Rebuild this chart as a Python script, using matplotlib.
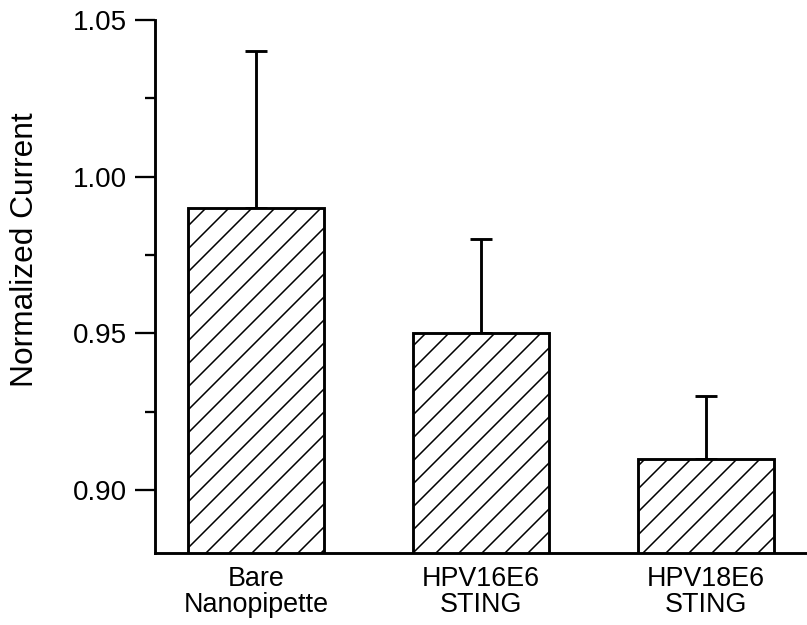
import numpy as np
import matplotlib
matplotlib.use("Agg")
import matplotlib.pyplot as plt
from matplotlib.ticker import MultipleLocator

groups = ["Bare\nNanopipette", "HPV16E6\nSTING", "HPV18E6\nSTING"]
current = [0.99, 0.95, 0.91]
current_err = [0.05, 0.03, 0.02]

plt.rcParams["font.family"] = ["Liberation Sans", "DejaVu Sans"]
plt.rcParams["hatch.linewidth"] = 0.8

dpi = 138
fig = plt.figure(figsize=(807 / dpi, 625 / dpi), dpi=dpi)
ax = fig.add_axes([0.192, 0.1152, 0.808, 0.853])

x = np.arange(len(groups))
ax.bar(x, current, width=0.605, color="white", edgecolor="black",
       linewidth=1.5, hatch="//", zorder=2)
# upper error bars only
ax.errorbar(x, current, yerr=[np.zeros(len(current)), current_err],
            fmt="none", ecolor="black", elinewidth=1.5, capsize=5.7,
            capthick=1.5, zorder=1)

ax.set_xlim(-0.45, 2.45)
ax.set_ylim(0.88, 1.05)
ax.set_xticks(x)
ax.set_xticklabels(groups, fontsize=14, linespacing=1.0)
ax.tick_params(axis="x", length=0, pad=7)

ax.yaxis.set_major_locator(MultipleLocator(0.05))
ax.yaxis.set_minor_locator(MultipleLocator(0.025))
ax.set_yticks([0.90, 0.95, 1.00, 1.05])
ax.set_yticklabels(["0.90", "0.95", "1.00", "1.05"], fontsize=14.5)
ax.tick_params(axis="y", which="major", length=10.5, width=1.2, pad=4)
ax.tick_params(axis="y", which="minor", length=5, width=1.2)

ax.spines["top"].set_visible(False)
ax.spines["right"].set_visible(False)
ax.spines["left"].set_linewidth(1.5)
ax.spines["bottom"].set_linewidth(1.5)

ax.set_ylabel("Normalized Current", fontsize=16.5, va="center")
ax.yaxis.set_label_coords(-0.199, 0.568)

fig.savefig("out.png", dpi=dpi)
